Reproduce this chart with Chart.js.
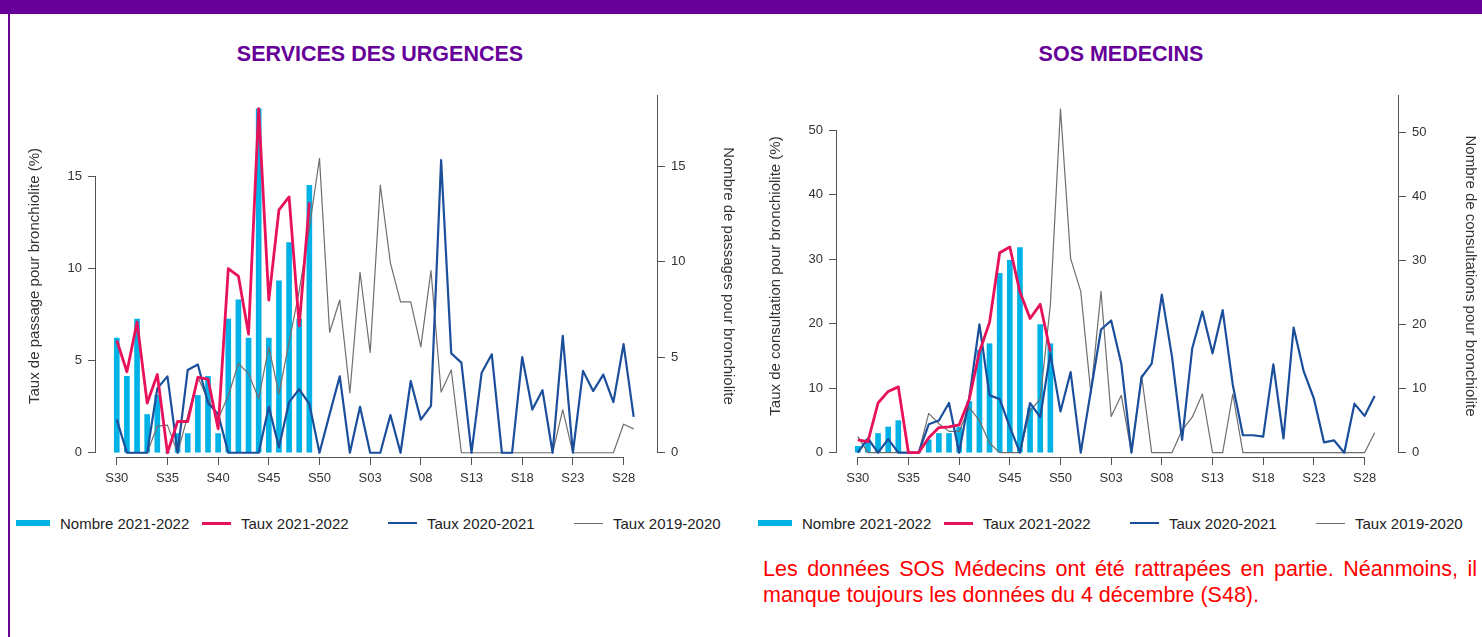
<!DOCTYPE html>
<html>
<head>
<meta charset="utf-8">
<script src="https://cdn.jsdelivr.net/npm/chart.js@4.4.0/dist/chart.umd.min.js"></script>
<style>
  body { margin: 0; width: 1482px; height: 637px; position: relative; overflow: hidden; background: #fff; font-family: "Liberation Sans", Arial, sans-serif; }
  .band { position: absolute; left: 0; top: 0; width: 1482px; height: 14px; background: #660099; }
  .edge { position: absolute; left: 8px; top: 0; width: 2px; height: 637px; background: #660099; }
  .title { position: absolute; top: 44px; line-height: 21px; font-size: 21.5px; font-weight: bold; color: #660099; text-align: center; width: 600px; }
  .panel { position: absolute; top: 80px; }
  .legend { position: absolute; top: 513px; display: flex; }
  .legend .item { width: 186px; height: 20px; display: flex; align-items: center; font-size: 15px; color: #222; white-space: nowrap; }
  .legend .sw { display: inline-block; margin-right: 10px; }
  .note { position: absolute; left: 763px; top: 556px; width: 714px; font-size: 21.5px; line-height: 26px; color: #ff0000; text-align: justify; }
</style>
</head>
<body>
<div class="band"></div>
<div class="edge"></div>
<div class="title" style="left:80px">SERVICES DES URGENCES</div>
<div class="title" style="left:821px">SOS MEDECINS</div>
<div class="panel" style="left:0"><canvas id="urgChart" width="745" height="420"></canvas></div>
<div class="panel" style="left:745px"><canvas id="sosChart" width="737" height="420"></canvas></div>
<div class="legend" id="urgLegend" style="left:16px"></div>
<div class="legend" id="sosLegend" style="left:758px"></div>
<div class="note">Les données SOS Médecins ont été rattrapées en partie. Néanmoins, il manque toujours les données du 4 décembre (S48).</div>

<script>
var weeks = ['S30', 'S31', 'S32', 'S33', 'S34', 'S35', 'S36', 'S37', 'S38', 'S39', 'S40', 'S41', 'S42', 'S43', 'S44', 'S45', 'S46', 'S47', 'S48', 'S49', 'S50', 'S51', 'S52',
    'S01', 'S02', 'S03', 'S04', 'S05', 'S06', 'S07', 'S08', 'S09', 'S10', 'S11', 'S12', 'S13', 'S14', 'S15', 'S16', 'S17', 'S18', 'S19', 'S20', 'S21', 'S22', 'S23', 'S24', 'S25', 'S26', 'S27', 'S28', 'S29'];
var weekTicks = ['S30', 'S35', 'S40', 'S45', 'S50', 'S03', 'S08', 'S13', 'S18', 'S23', 'S28'];
var urgTicks = [0, 5, 10, 15];
var sosTicks = [0, 10, 20, 30, 40, 50];

// services des urgences
var urgNombre = [6, 4, 7, 2, 3, 0, 1, 1, 3, 4, 1, 7, 8, 6, 18, 6, 9, 11, 7, 14];
var urgTaux2122 = [6.1, 4.4, 7.1, 2.7, 4.25, 0, 1.7, 1.7, 4.1, 4.0, 1.3, 10.0, 9.6, 6.45, 18.7, 8.3, 13.2, 13.9, 6.9, 13.6];
var urgTaux2021 = [1.8, 0, 0, 0, 3.5, 4.15, 0, 4.5, 4.8, 2.7, 2.1, 0, 0, 0, 0, 2.5, 0.3, 2.75, 3.45, 2.65,
    0, 2.1, 4.15, 0, 2.5, 0, 0, 2.05, 0, 3.9, 1.8, 2.55, 15.9, 5.4, 4.9, 0, 4.35, 5.35, 0, 0,
    5.2, 2.35, 3.4, 0, 6.35, 0, 4.45, 3.35, 4.25, 2.75, 5.9, 1.95];
var urgTaux1920 = [1.8, 0, 0, 0, 1.45, 1.5, 0, 2.0, 4.1, 2.9, 1.85, 3.1, 4.85, 4.3, 2.95, 5.75, 3.2, 6.0, 8.8, 12.2,
    16.0, 6.55, 8.3, 3.25, 9.8, 5.45, 14.55, 10.3, 8.2, 8.2, 5.75, 9.9, 3.3, 4.5, 0, 0, 0, 0, 0, 0,
    0, 0, 0, 0, 2.35, 0, 0, 0, 0, 0, 1.55, 1.3];

// sos medecins
var sosNombre = [1, 2, 3, 4, 5, 0, 0, 2, 3, 3, 4, 8, 16, 17, 28, 30, 32, 7, 20, 17];
var sosTaux2122 = [2.0, 1.7, 7.7, 9.5, 10.2, 0, 0, 2.3, 3.9, 4.0, 4.3, 8.3, 15.6, 20.2, 31.0, 31.9, 24.9, 20.8, 23.0, 15.7];
var sosTaux2021 = [0, 2.2, 0, 2.1, 0, 0, 0, 4.4, 5.0, 7.7, 0, 8.5, 19.9, 8.9, 8.3, 4.0, 0, 7.7, 5.5, 15.4,
    6.4, 12.5, 0, 9.6, 19.1, 20.5, 13.8, 0, 11.7, 13.8, 24.5, 14.9, 2.0, 16.2, 21.9, 15.4, 22.1, 10.5, 2.7, 2.7,
    2.5, 13.7, 2.2, 19.4, 12.6, 8.4, 1.6, 1.9, 0, 7.6, 5.7, 8.8];
var sosTaux1920 = [2.5, 0, 0, 0, 0, 0, 0, 6.1, 4.5, 3.3, 3.3, 7.0, 5.0, 1.5, 0, 0, 0, 6.5, 8.3, 22.9,
    53.3, 30.1, 25.0, 9.2, 25.0, 5.6, 8.9, 0, 12.0, 0, 0, 0, 3.5, 5.5, 9.1, 0, 0, 9.1, 0, 0,
    0, 0, 0, 0, 0, 0, 0, 0, 0, 0, 0, 3.1];

var labels = ['Nombre 2021-2022', 'Taux 2021-2022', 'Taux 2020-2021', 'Taux 2019-2020'];
var FONT = '"Liberation Sans", Arial, sans-serif';

function pts(arr) {
    return arr.map(function(v, i) { return { x: i, y: v }; });
}

// R-like axis lines: x and left y from first to last tick, right y full height
var axisLines = {
    id: 'axisLines',
    afterDraw: function(chart) {
        var ctx = chart.ctx, a = chart.chartArea;
        var x = chart.scales.x, yL = chart.scales.yL, yR = chart.scales.yR;
        var xt = x.ticks, lt = yL.ticks;
        ctx.save();
        ctx.strokeStyle = '#555';
        ctx.lineWidth = 1;
        ctx.beginPath();
        ctx.moveTo(x.getPixelForValue(xt[0].value), a.bottom + 0.5);
        ctx.lineTo(x.getPixelForValue(xt[xt.length - 1].value), a.bottom + 0.5);
        ctx.moveTo(a.left - 0.5, yL.getPixelForValue(lt[0].value));
        ctx.lineTo(a.left - 0.5, yL.getPixelForValue(lt[lt.length - 1].value));
        ctx.moveTo(a.right + 0.5, yR.getPixelForValue(0));
        ctx.lineTo(a.right + 0.5, a.top);
        ctx.stroke();
        ctx.restore();
    }
};

function makeChart(id, nombre, t2122, t2021, t1920, yTicks, o) {
    var tickFont = { family: FONT, size: 13 };
    return new Chart(document.getElementById(id).getContext('2d'), {
        type: 'line',
        data: {
            datasets: [
                { type: 'bar', label: labels[0], data: pts(nombre), yAxisID: 'yR', backgroundColor: '#00b2e5', barThickness: 5, order: 4 },
                { label: labels[1], data: pts(t2122), yAxisID: 'yL', borderColor: '#e8115b', borderWidth: 2.8, order: 1 },
                { label: labels[2], data: pts(t2021), yAxisID: 'yL', borderColor: '#1b4f9c', borderWidth: 2.2, order: 2 },
                { label: labels[3], data: pts(t1920), yAxisID: 'yL', borderColor: '#6e6e6e', borderWidth: 1.2, order: 3 }
            ]
        },
        options: {
            responsive: false,
            animation: false,
            layout: { padding: { top: 15, left: 0, right: 0, bottom: 0 } },
            elements: {
                point: { radius: 0 },
                line: { tension: 0, borderJoinStyle: 'round', fill: false }
            },
            plugins: { legend: { display: false }, tooltip: { enabled: false } },
            scales: {
                x: {
                    type: 'linear', offset: false, min: -2.05, max: 53.3,
                    afterBuildTicks: function(s) { s.ticks = weekTicks.map(function(w) { return { value: weeks.indexOf(w) }; }); },
                    afterFit: function(s) { s.height = 43; },
                    ticks: { callback: function(v) { return weeks[v]; }, font: tickFont, color: '#333', padding: 6, maxRotation: 0, autoSkip: false },
                    grid: { offset: false, drawOnChartArea: false, drawTicks: true, tickLength: 8, tickColor: '#555' },
                    border: { display: false }
                },
                yL: {
                    position: 'left', min: o.lMin, max: o.lMax,
                    afterBuildTicks: function(s) { s.ticks = yTicks.map(function(v) { return { value: v }; }); },
                    afterFit: function(s) { s.width = o.lWidth; },
                    ticks: { font: tickFont, color: '#333', padding: 6 },
                    grid: { drawOnChartArea: false, drawTicks: true, tickLength: 8, tickColor: '#555' },
                    border: { display: false },
                    title: { display: true, text: o.lTitle, font: { family: FONT, size: 15 }, color: '#333', padding: { top: o.lPad, bottom: 0 } }
                },
                yR: {
                    position: 'right', min: o.rMin, max: o.rMax,
                    afterBuildTicks: function(s) { s.ticks = yTicks.map(function(v) { return { value: v }; }); },
                    afterFit: function(s) { s.width = o.rWidth; },
                    ticks: { font: tickFont, color: '#333', padding: 6 },
                    grid: { drawOnChartArea: false, drawTicks: true, tickLength: 8, tickColor: '#555' },
                    border: { display: false },
                    title: { display: true, text: o.rTitle, font: { family: FONT, size: 15 }, color: '#333', padding: { top: o.rPad, bottom: 0 } }
                }
            }
        },
        plugins: [axisLines]
    });
}

function buildLegend(elId, chart) {
    var el = document.getElementById(elId);
    chart.data.datasets.forEach(function(ds) {
        var item = document.createElement('div');
        item.className = 'item';
        var sw = document.createElement('span');
        sw.className = 'sw';
        if (ds.type === 'bar') {
            sw.style.width = '34px'; sw.style.height = '6px'; sw.style.background = ds.backgroundColor;
        } else {
            sw.style.width = '29px'; sw.style.height = Math.max(1, Math.round(ds.borderWidth)) + 'px'; sw.style.background = ds.borderColor;
        }
        item.appendChild(sw);
        item.appendChild(document.createTextNode(ds.label));
        el.appendChild(item);
    });
}

var urgChart = makeChart('urgChart', urgNombre, urgTaux2122, urgTaux2021, urgTaux1920, urgTicks, {
    lMin: -0.23, lMax: 19.44, rMin: -0.225, rMax: 18.73, lWidth: 96, rWidth: 88, lPad: 26, rPad: 8,
    lTitle: 'Taux de passage pour bronchiolite (%)', rTitle: 'Nombre de passages pour bronchiolite'
});
var sosChart = makeChart('sosChart', sosNombre, sosTaux2122, sosTaux2021, sosTaux1920, sosTicks, {
    lMin: -0.67, lMax: 55.46, rMin: -0.67, rMax: 55.8, lWidth: 92, rWidth: 84, lPad: 22, rPad: 3,
    lTitle: 'Taux de consultation pour bronchiolite (%)', rTitle: 'Nombre de consultations pour bronchiolite'
});
buildLegend('urgLegend', urgChart);
buildLegend('sosLegend', sosChart);
</script>
</body>
</html>
